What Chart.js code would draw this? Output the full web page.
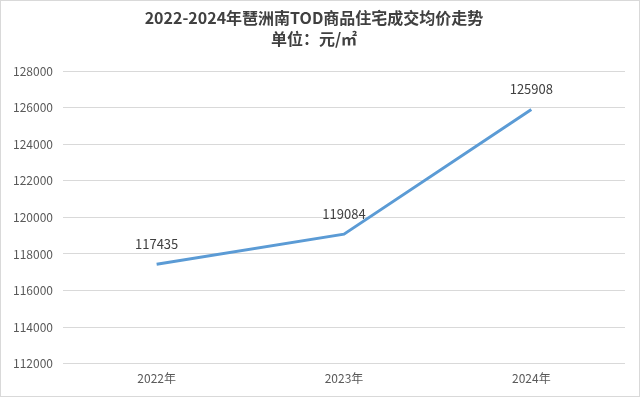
<!DOCTYPE html>
<html>
<head>
<meta charset="utf-8">
<script src="https://cdn.jsdelivr.net/npm/chart.js@4"></script>
<style>
  html, body { margin: 0; padding: 0; background: #fff; }
  #wrap {
    width: 640px; height: 397px; box-sizing: border-box;
    border: 1px solid #d9d9d9; background: #fff;
  }
</style>
</head>
<body>
<div id="wrap"><canvas id="priceChart" width="638" height="395"></canvas></div>
<script>
const years = ['2022年', '2023年', '2024年'];
const avgPrice = [117435, 119084, 125908];
const titleLines = ['2022-2024年琶洲南TOD商品住宅成交均价走势', '单位：元/㎡'];
const yMin = 112000;
const yMax = 128000;
const yStep = 2000;

const FONT = "'Noto Sans CJK SC', 'Noto Sans', sans-serif";

// simple value labels above each point
const pointLabels = {
  id: 'pointLabels',
  afterDatasetsDraw(chart) {
    const c = chart.ctx;
    const meta = chart.getDatasetMeta(0);
    c.save();
    c.font = '13px ' + FONT;
    c.fillStyle = '#404040';
    c.textAlign = 'center';
    c.textBaseline = 'middle';
    meta.data.forEach((pt, i) => {
      c.fillText(String(chart.data.datasets[0].data[i]), pt.x, pt.y - 20);
    });
    c.restore();
  }
};

const ctx = document.getElementById('priceChart').getContext('2d');

const config = {
  type: 'line',
  data: {
    labels: years,
    datasets: [{
      label: '成交均价',
      data: avgPrice,
      borderColor: '#5B9BD5',
      borderWidth: 3,
      fill: false,
      radius: 0,
      tension: 0,
    }]
  },
  options: {
    responsive: false,
    animation: false,
    layout: {
      padding: { left: 2, right: 14, top: 0, bottom: 2 }
    },
    plugins: {
      legend: { display: false },
      tooltip: { enabled: false },
      title: {
        display: true,
        text: titleLines,
        color: '#404040',
        font: { family: FONT, size: 16, weight: 'bold', lineHeight: 1.35 },
        padding: { top: 6, bottom: 21 }
      }
    },
    scales: {
      x: {
        offset: true,
        grid: { display: false, drawTicks: false },
        border: { display: false },
        ticks: {
          color: '#595959',
          font: { family: FONT, size: 12 },
          padding: 8,
          maxRotation: 0
        }
      },
      y: {
        min: yMin,
        max: yMax,
        grid: { color: '#d9d9d9', lineWidth: 1, drawTicks: false },
        border: { display: false },
        ticks: {
          stepSize: yStep,
          color: '#595959',
          font: { family: FONT, size: 12 },
          padding: 10,
          callback: v => String(v)
        }
      }
    }
  },
  plugins: [pointLabels]
};

const priceChart = new Chart(ctx, config);
</script>
</body>
</html>
